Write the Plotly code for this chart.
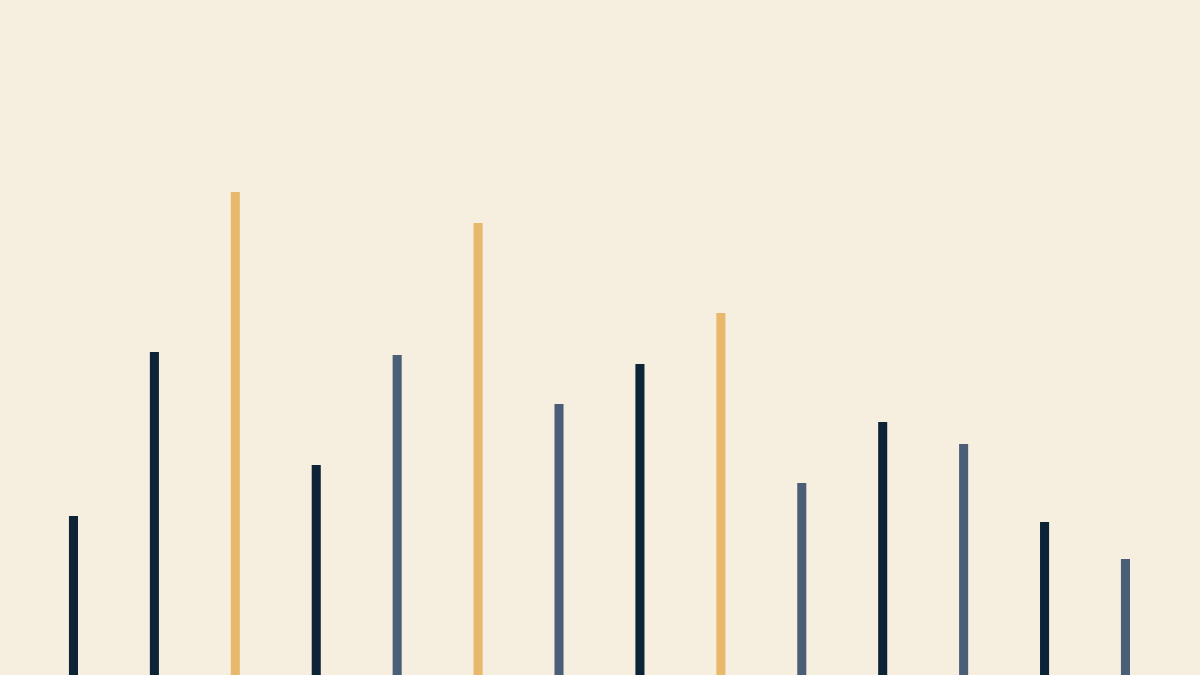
import plotly.graph_objects as go

positions = list(range(14))
values = [159, 323, 483, 210, 320, 452, 271, 311, 362, 192, 253, 231, 153, 116]
groups = ["navy", "navy", "gold", "navy", "slate", "gold", "slate",
          "navy", "gold", "slate", "navy", "slate", "navy", "slate"]
palette = {"navy": "#0d2437", "slate": "#4b5e78", "gold": "#e8b86c"}
background = "#f6eedf"

fig = go.Figure(go.Bar(
    x=positions,
    y=values,
    width=0.112,
    marker=dict(color=[palette[g] for g in groups], line=dict(width=0)),
    hoverinfo="skip",
))
fig.update_layout(
    width=1200, height=675,
    margin=dict(l=0, r=0, t=0, b=0),
    paper_bgcolor=background,
    plot_bgcolor=background,
    showlegend=False,
    xaxis=dict(visible=False, range=[-0.908, 13.921]),
    yaxis=dict(visible=False, range=[0, 675]),
)
post = ("document.body.style.margin='0';"
        "document.body.style.padding='0';"
        "document.body.style.overflow='hidden';"
        "document.body.style.background='" + background + "';")
fig.write_html("out.html", config={"displayModeBar": False}, post_script=post)
